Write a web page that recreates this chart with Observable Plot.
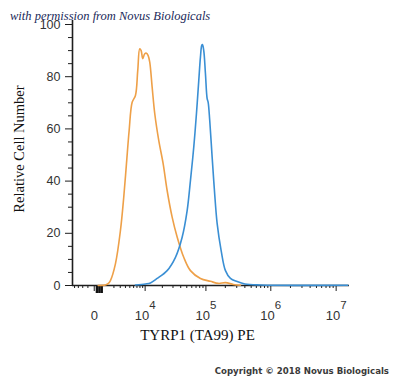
<!DOCTYPE html>
<html><head><meta charset="utf-8">
<script src="https://cdn.jsdelivr.net/npm/d3@7"></script>
<script src="https://cdn.jsdelivr.net/npm/@observablehq/plot@0.6"></script>
<style>
body{margin:0;background:#fff;}
#wrap{position:relative;width:400px;height:378px;overflow:hidden;background:#fff;}
.ov{position:absolute;white-space:nowrap;line-height:1;}
</style></head><body>
<div id="wrap"></div>
<script>
// ---- data ----
const orangeX = [300, 966, 1297, 1537, 2217, 3033, 3651, 4216, 4836, 5600, 6534, 7254, 7926, 8426, 9036, 9836, 10568, 11346, 12116, 13364, 14830, 17380, 20620, 24040, 29060, 35040, 44720, 57160, 82120, 117700, 156600, 201000, 266800, 342000];
const orangeY = [0, 0.2, 0.8, 1.9, 8.3, 21.1, 33.8, 46.6, 59.4, 70.2, 72.8, 82.4, 90.7, 90.0, 86.9, 88.8, 89.0, 88.1, 85.6, 76.0, 65.9, 55.6, 46.7, 36.4, 26.2, 18.6, 10.8, 5.7, 2.7, 1.6, 0.8, 1.1, 0.4, 0.1];
const blueX = [6534, 10134, 12470, 16320, 24040, 32900, 42180, 50680, 57160, 64480, 71120, 77300, 82120, 86080, 88300, 92540, 98300, 104500, 108400, 114700, 125000, 135700, 149400, 172400, 201000, 240000, 304400, 400000, 694000, 1.5e7];
const blueY = [0.2, 0.6, 1.0, 2.7, 5.7, 10.8, 18.5, 28.7, 40.2, 53.0, 65.9, 78.5, 87.5, 92.0, 92.3, 90.0, 81.2, 71.6, 70.2, 63.2, 49.2, 36.4, 23.8, 13.4, 5.7, 2.7, 1.5, 0.6, 0.2, 0.1];

const xDomain = [-2300, 1.6e7];
const yDomain = [0, 100];
const xMajor = [0, 1e4, 1e5, 1e6, 1e7];
const xMinor = [-2000, -1500, -1000, -500,
  2000, 3000, 4000, 5000, 6000, 7000, 8000, 9000,
  2e4, 3e4, 4e4, 5e4, 6e4, 7e4, 8e4, 9e4,
  2e5, 3e5, 4e5, 5e5, 6e5, 7e5, 8e5, 9e5,
  2e6, 3e6, 4e6, 5e6, 6e6, 7e6, 8e6, 9e6];
const xZeroBlock = [200, 400, 600];
const yMajor = [0, 20, 40, 60, 80, 100];
const yMinor = [5, 10, 15, 25, 30, 35, 45, 50, 55, 65, 70, 75, 85, 90, 95];

const xTitle = "TYRP1 (TA99) PE";
const yTitle = "Relative Cell Number";
const topNote = "with permission from Novus Biologicals";
const copyright = "Copyright © 2018 Novus Biologicals";

const orange = orangeX.map((x, i) => ({x, y: orangeY[i]}));
const blue = blueX.map((x, i) => ({x, y: blueY[i]}));

const axisColor = "#1e1e1e";
const chart = Plot.plot({
  width: 400, height: 378,
  marginLeft: 72, marginRight: 51, marginTop: 24, marginBottom: 93,
  x: {type: "symlog", constant: 2000, domain: xDomain},
  y: {domain: yDomain},
  style: {background: "white", fontFamily: "'Liberation Sans', Arial, sans-serif", fontSize: "12.5px", color: "#333"},
  marks: [
    Plot.axisY(yMajor, {tickSize: 7, tickPadding: 5, label: null, stroke: axisColor, fill: "#333", fontSize: 12.5}),
    Plot.axisY(yMinor, {tickSize: 4, label: null, stroke: axisColor, tickFormat: () => ""}),
    Plot.axisX(xMajor, {tickSize: 6, tickPadding: 19, label: null, stroke: axisColor, fill: "#333", fontSize: 13,
      tickFormat: d => d === 0 ? "0" : "10^" + Math.round(Math.log10(d))}),
    Plot.axisX(xMinor, {tickSize: 3, label: null, stroke: axisColor, tickFormat: () => ""}),
    Plot.axisX(xZeroBlock, {tickSize: 8, strokeWidth: 2.5, label: null, stroke: "#111", tickFormat: () => ""}),
    Plot.ruleX([xDomain[0]], {y1: 0, y2: 101.5, stroke: axisColor, strokeWidth: 1.6}),
    Plot.ruleY([0], {stroke: axisColor, strokeWidth: 1.6}),
    Plot.line(orange, {x: "x", y: "y", stroke: "#eea048", strokeWidth: 1.6, curve: "catmull-rom"}),
    Plot.line(blue, {x: "x", y: "y", stroke: "#3a8fd4", strokeWidth: 1.6, curve: "catmull-rom"})
  ]
});

// superscript exponents on the x tick labels
d3.select(chart).selectAll('g[aria-label="x-axis tick label"] text').each(function() {
  const t = this.textContent;
  if (t.startsWith("10^")) {
    const e = t.slice(3);
    const sel = d3.select(this);
    sel.text("");
    sel.append("tspan").text("10");
    sel.append("tspan").attr("dy", -11).attr("font-size", 11.5).text(e);
  }
});
d3.select(chart).selectAll('g[aria-label="x-axis tick label"]').attr("font-size", 13);
d3.select(chart).selectAll('g[aria-label="y-axis tick label"]').attr("font-size", 12.5);

const wrap = document.getElementById("wrap");
wrap.appendChild(chart);

function overlay(text, css) {
  const d = document.createElement("div");
  d.className = "ov";
  d.textContent = text;
  Object.assign(d.style, css);
  wrap.appendChild(d);
}
overlay(yTitle, {left: "19px", top: "149px", transform: "translate(-50%,-50%) rotate(-90deg)",
  font: "14.5px 'Liberation Serif', 'Times New Roman', serif", color: "#111"});
overlay(xTitle, {left: "197.5px", top: "335px", transform: "translate(-50%,-50%)",
  font: "15px 'Liberation Serif', 'Times New Roman', serif", color: "#111"});
overlay(topNote, {left: "10px", top: "16px", transform: "translate(0,-50%)",
  font: "italic 12.5px 'Liberation Serif', 'DejaVu Serif', serif", color: "#1b2a5a"});
overlay(copyright, {right: "11px", top: "371px", transform: "translate(0,-50%)",
  font: "bold 8.6px 'DejaVu Sans', Verdana, sans-serif", color: "#3a3a3a"});
</script>
</body></html>
